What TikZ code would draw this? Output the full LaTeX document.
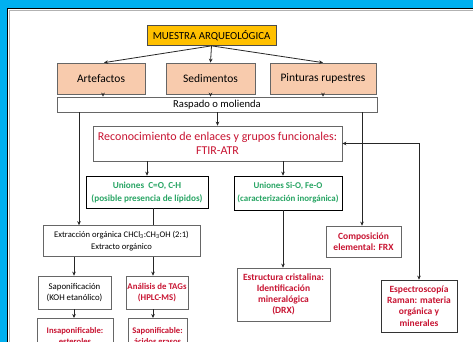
\documentclass[tikz,border=0pt]{standalone}
\usepackage{fontspec}
\setmainfont{Carlito}
\usetikzlibrary{arrows.meta}
\definecolor{frameblue}{RGB}{0,176,240}
\definecolor{topfill}{RGB}{255,192,0}
\definecolor{peach}{RGB}{248,203,173}
\definecolor{redtxt}{RGB}{200,20,50}
\definecolor{greentxt}{RGB}{40,165,100}
\begin{document}
\begin{tikzpicture}[x=1pt,y=-1pt,
  box/.style={draw=gray!80!black,line width=0.7pt,fill=white,inner sep=1pt,align=center,text=black},
  catbox/.style={box,fill=peach,font=\fontsize{11.5}{13}\selectfont},
  redbox/.style={box,text=redtxt,font=\bfseries\fontsize{9.5}{11.2}\selectfont},
  greenbox/.style={box,draw=black,text=greentxt,font=\bfseries\fontsize{9.2}{13}\selectfont},
  blackbox/.style={box,font=\fontsize{8.8}{11.5}\selectfont},
  arr/.style={draw=black!85,line width=0.8pt,-{Stealth[length=4pt,width=3.6pt]}},
  link/.style={draw=black!85,line width=0.8pt}]
\useasboundingbox (0,0) rectangle (473,342);
\clip (0,0) rectangle (473,342);
\fill[white] (0,0) rectangle (473,342);
% frame on the top and left edges
\fill[frameblue] (0,0) rectangle (473,8);
\fill[frameblue] (0,0) rectangle (7,342);
\draw[black,line width=1.2pt] (7.6,342) -- (7.6,8.6) -- (473,8.6);
\draw[gray!60,line width=0.8pt] (9,342) -- (9,10) -- (473,10);

% vertical guide positions
\coordinate (c1) at (79,0);
\coordinate (c2) at (153,0);
\coordinate (c3) at (362,0);
\coordinate (c4) at (283,0);
\coordinate (c5) at (74,0);

% nodes
\node[box,draw=black!70,fill=topfill,minimum width=129pt,minimum height=20pt,font=\fontsize{10.8}{12}\selectfont] (muestra) at (211.5,35.5) {MUESTRA ARQUEOLÓGICA};
\node[catbox,minimum width=88pt,minimum height=31pt] (arte) at (101,78.5) {Artefactos};
\node[catbox,minimum width=89pt,minimum height=31pt] (sedi) at (210.5,78.5) {Sedimentos};
\node[catbox,minimum width=106pt,minimum height=31pt] (pint) at (323,78.5) {Pinturas rupestres};
\node[box,minimum width=320pt,minimum height=15pt,font=\fontsize{10.6}{12}\selectfont] (rasp) at (217,104.5) {Raspado o molienda};
\node[box,text=redtxt,minimum width=249pt,minimum height=35pt,font=\fontsize{12}{14}\selectfont] (ftir) at (217.5,143.5) {Reconocimiento de enlaces y grupos funcionales:\\FTIR-ATR};
\node[greenbox,minimum width=122pt,minimum height=32pt] (unco) at (147,192) {Uniones\ \ C=O, C-H\\(posible presencia de lípidos)};
\node[greenbox,minimum width=108pt,minimum height=34pt,font=\bfseries\fontsize{8.9}{13}\selectfont] (unsi) at (288,193) {Uniones Si-O, Fe-O\\(caracterización inorgánica)};
\node[blackbox,font=\fontsize{8.6}{12}\selectfont,minimum width=157pt,minimum height=31pt] (extr) at (121.5,241) {Extracción orgánica CHCl\textsubscript{3}:CH\textsubscript{3}OH (2:1)\\Extracto orgánico};
\node[redbox,minimum width=75pt,minimum height=31pt] (comp) at (363.5,241.5) {Composición\\elemental: FRX};
\node[blackbox,minimum width=73pt,minimum height=33pt] (sapo) at (74.5,292.5) {Saponificación\\(KOH etanólico)};
\node[redbox,minimum width=62pt,minimum height=33pt,font=\bfseries\fontsize{8.8}{11.5}\selectfont] (tags) at (157,292.5) {Análisis de TAGs\\(HPLC-MS)};
\node[redbox,minimum width=76pt,minimum height=36pt,anchor=north,font=\bfseries\fontsize{8.6}{11}\selectfont] (insa) at (75,318) {Insaponificable:\\esteroles};
\node[redbox,minimum width=59pt,minimum height=36pt,anchor=north,font=\bfseries\fontsize{8.6}{11}\selectfont] (sapf) at (157.5,318) {Saponificable:\\ácidos grasos};
\node[redbox,minimum width=93pt,minimum height=53pt] (estr) at (283.5,294.5) {Estructura cristalina:\\Identificación\\mineralógica\\(DRX)};
\node[redbox,draw=black!80,minimum width=76pt,minimum height=52pt] (raman) at (419,306) {Espectroscopía\\Raman: materia\\orgánica y\\minerales};

% connectors
\draw[arr] (muestra.south) -- ([xshift=3pt]arte.north);
\draw[arr] (muestra.south) -- (sedi.north);
\draw[arr] (muestra.south) -- (pint.north);
\draw[arr] ([xshift=2pt]arte.south) -- ([xshift=2pt]arte.south |- rasp.north);
\draw[arr] (sedi.south) -- (sedi.south |- rasp.north);
\draw[arr] (pint.south) -- (pint.south |- rasp.north);
\draw[arr] (ftir.north |- rasp.south) -- (ftir.north);
\draw[arr] (rasp.south -| c1) -- (extr.north -| c1);
\draw[arr] (rasp.south -| c3) -- (comp.north -| c3);
\draw[arr,{Stealth[length=4pt,width=3.6pt]}-{Stealth[length=4pt,width=3.6pt]}] (ftir.east) -| (raman.north);
\draw[arr] (ftir.south -| unco.north) -- (unco.north);
\draw[arr] (ftir.south -| c4) -- (unsi.north -| c4);
\draw[link] (unco.south -| c2) -- (extr.north -| c2);
\draw[arr] (unsi.south -| c4) -- (estr.north -| c4);
\draw[arr] (extr.south -| c5) -- (sapo.north -| c5);
\draw[arr] (extr.south -| c2) -- (tags.north -| c2);
\draw[arr] (sapo.south -| c5) -- (insa.north -| c5);
\draw[arr] (tags.south -| c2) -- (sapf.north -| c2);
\end{tikzpicture}
\end{document}
